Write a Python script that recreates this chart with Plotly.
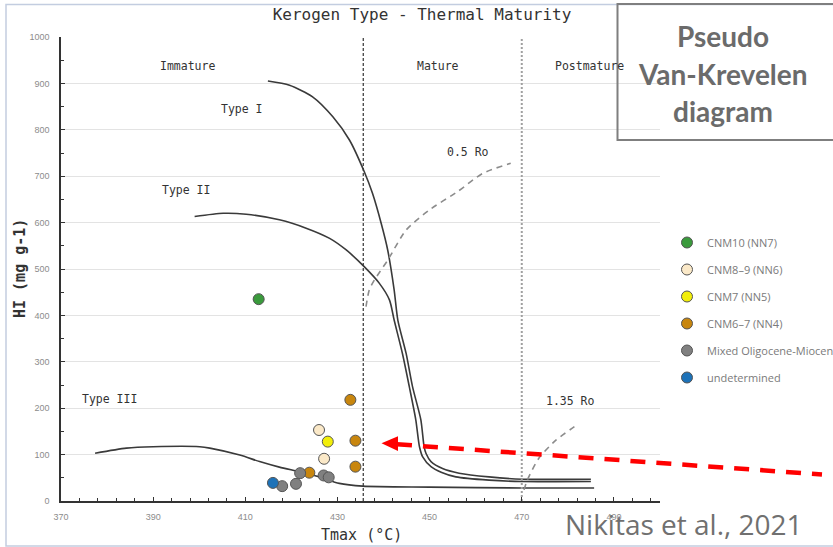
import plotly.graph_objects as go

# ---------------- data ----------------
type1_t = [414.9, 419.6, 424.6, 429.0, 432.6, 435.8, 437.6, 439.5, 440.9, 442.3, 443.1, 444.9,
           446.3, 448.1, 448.8, 449.2, 450.3, 452.8, 456.4, 462.9, 470.1, 485.0]
type1_hi = [905, 896, 871, 828, 778, 710, 663, 598, 541, 455, 390, 318,
            246, 175, 117, 103, 85, 70, 60, 52, 47, 47]

type2_t = [399.0, 405.2, 410.2, 417.4, 423.2, 428.3, 431.9, 435.8, 439.1, 441.3, 442.3, 444.1,
           445.6, 447.0, 447.8, 448.5, 450.3, 452.5, 455.7, 462.9, 470.1, 485.0]
type2_hi = [613, 620, 618, 606, 588, 566, 541, 505, 469, 433, 390, 318,
            246, 175, 117, 95, 74, 62, 52, 45, 42, 42]

type3_t = [377.4, 384.2, 390.0, 400.1, 402.3, 408.8, 413.1, 417.4, 421.8, 426.1, 430.4, 435.5, 450.0, 470.0, 485.7]
type3_hi = [103, 114, 117, 117, 114, 99, 85, 73, 63, 52, 38, 32, 30, 28, 28]

ro05_t = [436.2, 436.9, 438.0, 440.9, 444.9, 449.9, 456.1, 461.5, 467.6]
ro05_hi = [419, 455, 476, 519, 584, 627, 667, 706, 728]

ro135_t = [470.5, 471.2, 473.7, 477.4, 482.0]
ro135_hi = [24, 45, 92, 131, 164]

mature_boundary = 435.6
postmature_boundary = 470.0

groups = ["CNM10 (NN7)", "CNM8\u20139 (NN6)", "CNM7 (NN5)", "CNM6\u20137 (NN4)",
          "Mixed Oligocene-Miocene", "undetermined"]
group_colors = ["#3a9a3c", "#fbe9c8", "#f2ee0a", "#c8860e", "#808080", "#1d72b8"]
group_t = [[412.9], [426.0, 427.1], [427.9], [432.8, 433.9, 433.9, 423.9],
           [421.9, 427.0, 428.1, 418.0, 421.0], [416.0]]
group_hi = [[435], [153, 91], [128], [218, 130, 74, 61],
            [60, 55, 51, 32, 37], [39]]

x_ticks = [370, 390, 410, 430, 450, 470, 490]
y_ticks = [0, 100, 200, 300, 400, 500, 600, 700, 800, 900, 1000]

box_lines = ["Pseudo", "Van-Krevelen", "diagram"]
citation = "Nikitas et al., 2021"

# ---------------- figure ----------------
W, H = 833, 547
L, R, T, B = 61, 660, 37, 501
def px(xp):
    return (xp - L) / (R - L)
def py(yp):
    return (B - yp) / (B - T)

fig = go.Figure()

curve_style = dict(color="#3a3a3a", width=1.6, shape="spline", smoothing=0.7)
for xs, ys in [(type1_t, type1_hi), (type2_t, type2_hi), (type3_t, type3_hi)]:
    fig.add_trace(go.Scatter(x=xs, y=ys, mode="lines", line=curve_style,
                             showlegend=False, hoverinfo="skip"))

for xs, ys in [(ro05_t, ro05_hi), (ro135_t, ro135_hi)]:
    fig.add_trace(go.Scatter(x=xs, y=ys, mode="lines",
                             line=dict(color="#8c8c8c", width=1.6, dash="6px,5px",
                                       shape="spline", smoothing=0.7),
                             showlegend=False, hoverinfo="skip"))

fig.add_trace(go.Scatter(x=[mature_boundary, mature_boundary], y=[0, 1000], mode="lines",
                         line=dict(color="#333333", width=1.2, dash="3px,2px"),
                         showlegend=False, hoverinfo="skip"))
fig.add_trace(go.Scatter(x=[postmature_boundary, postmature_boundary], y=[0, 1000], mode="lines",
                         line=dict(color="#a0a0a0", width=2, dash="2px,2px"),
                         showlegend=False, hoverinfo="skip"))

for i, (name, col, xs, ys) in enumerate(zip(groups, group_colors, group_t, group_hi)):
    fig.add_trace(go.Scatter(x=xs, y=ys, mode="markers", name=name, legendgroup=name,
                             marker=dict(color=col, size=11, line=dict(color="#555555", width=1))))

# text labels inside the chart (data coordinates)
labels = [("Immature", 397.5, 937), ("Mature", 451.9, 937), ("Postmature", 484.8, 937),
          ("Type I", 409.2, 845), ("Type II", 397.1, 670), ("Type III", 380.6, 220),
          ("0.5 Ro", 458.4, 752), ("1.35 Ro", 480.5, 216)]
mono = "DejaVu Sans Mono"
for txt, xv, yv in labels:
    fig.add_annotation(x=xv, y=yv, text=txt, showarrow=False, xanchor="center", yanchor="middle",
                       font=dict(family=mono, size=11.5, color="#333333"))

# axis titles
fig.add_annotation(xref="paper", yref="paper", x=px(20), y=0.5, text="<b>HI (mg g-1)</b>",
                   textangle=-90, showarrow=False, xanchor="center", yanchor="middle",
                   font=dict(family=mono, size=15, color="#333333"))
fig.add_annotation(xref="paper", yref="paper", x=px(361), y=py(535), text="Tmax (\u00b0C)",
                   showarrow=False, xanchor="center", yanchor="middle",
                   font=dict(family=mono, size=15, color="#333333"))

# box text and citation
for txt, yp in zip(box_lines, [36, 74, 111]):
    fig.add_annotation(xref="paper", yref="paper", x=px(723), y=py(yp),
                       text=f"<b>{txt}</b>", showarrow=False,
                       xanchor="center", yanchor="middle",
                       font=dict(family="Lato", size=28, color="#6b6b6b"))
fig.add_annotation(xref="paper", yref="paper", x=px(684), y=py(524),
                   text=citation, showarrow=False,
                   xanchor="center", yanchor="middle",
                   font=dict(family="Open Sans", size=28, color="#707070"))

shapes = [
    # outer frame
    dict(type="rect", xref="paper", yref="paper", x0=px(6), x1=px(900), y0=py(546), y1=py(4.5),
         line=dict(color="#c3cde0", width=1.5), fillcolor="rgba(0,0,0,0)", layer="below"),
    # box
    dict(type="rect", xref="paper", yref="paper", x0=px(617.5), x1=px(900), y0=py(140), y1=py(4),
         line=dict(color="#7f7f7f", width=2), fillcolor="rgba(0,0,0,0)"),
    # red dashed arrow line
    dict(type="line", xref="paper", yref="paper", x0=px(397), y0=py(444.3), x1=px(822), y1=py(474.5),
         line=dict(color="#ff0000", width=4.5, dash="15px,11px")),
    # arrow head
    dict(type="path", xref="paper", yref="paper",
         path=f"M {px(381.5)} {py(443.3)} L {px(398)} {py(436.3)} L {px(398)} {py(451)} Z",
         line=dict(color="#ff0000", width=0), fillcolor="#ff0000"),
]

fig.update_layout(
    width=W, height=H,
    margin=dict(l=L, r=W - R, t=T, b=H - B, autoexpand=False),
    paper_bgcolor="white", plot_bgcolor="white",
    title=dict(text="Kerogen Type - Thermal Maturity", x=422 / W, y=1 - 14 / H,
               xanchor="center", yanchor="middle",
               font=dict(family=mono, size=16, color="#333333")),
    showlegend=True,
    legend=dict(x=px(667), y=py(228), xanchor="left", yanchor="top",
                font=dict(family="Open Sans", size=11, color="#7a7a7a"),
                tracegroupgap=8, bgcolor="rgba(0,0,0,0)"),
    shapes=shapes,
    xaxis=dict(range=[370, 500], tickvals=x_ticks, ticks="inside", ticklen=4,
               tickcolor="#333333", showgrid=False, zeroline=False,
               showline=True, linecolor="#333333", linewidth=1.5,
               tickfont=dict(family="Liberation Sans", size=9, color="#8c8c8c"),
               ticklabelstandoff=6,
               minor=dict(dtick=4, tick0=370, ticks="inside", ticklen=3, tickcolor="#333333")),
    yaxis=dict(range=[0, 1000], tickvals=y_ticks, ticks="inside", ticklen=4,
               tickcolor="#333333", showgrid=True, gridcolor="#e3e3e3", gridwidth=1,
               zeroline=False, showline=True, linecolor="#333333", linewidth=1.5,
               tickfont=dict(family="Liberation Sans", size=9, color="#8c8c8c"),
               ticklabelstandoff=8,
               minor=dict(dtick=50, tick0=0, ticks="inside", ticklen=3, tickcolor="#333333")),
)

fig.write_html("out.html", config={"displayModeBar": False},
               post_script="document.body.style.margin='0';")
